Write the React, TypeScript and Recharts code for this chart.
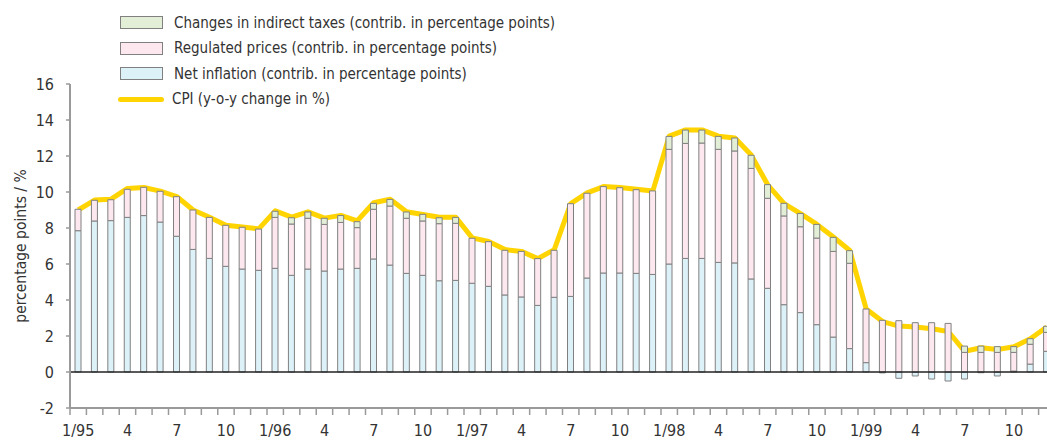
import React from 'react';
import { ComposedChart, Bar, Line, XAxis, YAxis, ReferenceLine } from 'recharts';

const years = ['95', '96', '97', '98', '99'];
const monthsPerYear = 12;

const netInflation = [
  7.85, 8.39, 8.41, 8.59, 8.69, 8.33, 7.54, 6.81, 6.31, 5.87, 5.72, 5.65,
  5.76, 5.37, 5.72, 5.61, 5.72, 5.76, 6.28, 5.94, 5.48, 5.37, 5.07, 5.09,
  4.93, 4.76, 4.28, 4.17, 3.70, 4.15, 4.20, 5.22, 5.50, 5.50, 5.48, 5.42,
  6.00, 6.31, 6.31, 6.09, 6.06, 5.17, 4.65, 3.74, 3.30, 2.63, 1.94, 1.30,
  0.52, -0.05, -0.35, -0.22, -0.39, -0.50, -0.39, -0.04, -0.22, 0.05, 0.44, 1.15,
];

const regulatedPrices = [
  1.19, 1.15, 1.16, 1.56, 1.57, 1.71, 2.20, 2.19, 2.28, 2.28, 2.32, 2.29,
  2.83, 2.85, 2.82, 2.59, 2.59, 2.26, 2.76, 3.28, 3.06, 3.02, 3.17, 3.17,
  2.50, 2.48, 2.48, 2.53, 2.60, 2.61, 5.15, 4.71, 4.80, 4.74, 4.65, 4.64,
  6.37, 6.39, 6.41, 6.28, 6.22, 6.14, 5.00, 4.93, 4.77, 4.81, 4.76, 4.74,
  2.98, 2.87, 2.85, 2.74, 2.74, 2.70, 1.09, 1.09, 1.09, 1.04, 1.10, 1.05,
];

const indirectTaxes = [
  0, 0, 0, 0, 0, 0, 0, 0, 0, 0, 0, 0,
  0.34, 0.35, 0.35, 0.34, 0.38, 0.33, 0.33, 0.37, 0.35, 0.37, 0.33, 0.33,
  0, 0, 0, 0, 0, 0, 0, 0, 0, 0, 0, 0,
  0.72, 0.74, 0.72, 0.72, 0.72, 0.73, 0.76, 0.70, 0.74, 0.76, 0.78, 0.70,
  0, 0, 0, 0, 0, 0, 0.35, 0.35, 0.32, 0.32, 0.31, 0.34,
];

const cpi = [
  9.0, 9.55, 9.6, 10.2, 10.25, 10.05, 9.75, 9.0, 8.6, 8.15, 8.05, 7.95,
  8.95, 8.6, 8.9, 8.55, 8.7, 8.4, 9.4, 9.6, 8.9, 8.75, 8.6, 8.6,
  7.45, 7.25, 6.8, 6.7, 6.3, 6.8, 9.35, 9.95, 10.3, 10.25, 10.15, 10.05,
  13.1, 13.45, 13.45, 13.1, 13.0, 12.05, 10.4, 9.35, 8.8, 8.2, 7.5, 6.75,
  3.5, 2.8, 2.55, 2.5, 2.4, 2.25, 1.15, 1.35, 1.25, 1.4, 1.85, 2.5,
];

const yTicks = [-2, 0, 2, 4, 6, 8, 10, 12, 14, 16];

const seriesNames = {
  taxes: 'Changes in indirect taxes (contrib. in percentage points)',
  regulated: 'Regulated prices (contrib. in percentage points)',
  net: 'Net inflation (contrib. in percentage points)',
  cpi: 'CPI (y-o-y change in %)',
};

const colors = {
  net: '#ddf1f9',
  regulated: '#fde8f0',
  taxes: '#e2efd6',
  cpi: '#ffd400',
  barStroke: '#808080',
  axis: '#9a9a9a',
  text: '#333333',
};

const months: string[] = [];
years.forEach((y) => {
  for (let m = 1; m <= monthsPerYear; m++) months.push(`${m}/${y}`);
});

const data = months.map((month, i) => ({
  month,
  net: netInflation[i],
  regulated: regulatedPrices[i],
  taxes: indirectTaxes[i],
  cpi: cpi[i],
}));

const FONT = "'Liberation Sans Narrow', 'DejaVu Sans Condensed', 'Arial Narrow', sans-serif";
const CHART_W = 1060;
const CHART_H = 441;
const MARGIN = { top: 84, right: 5, bottom: 0, left: 0 };
const Y_W = 70;
const PLOT_W = CHART_W - MARGIN.left - MARGIN.right - Y_W;
const BAND = PLOT_W / data.length;

const tickLabel = (month: string) => {
  const [m, y] = month.split('/');
  return m === '1' ? `1/${y}` : m;
};

const XTick = (props: any) => {
  const { x, y, payload, index } = props;
  const bx = x - BAND / 2;
  return (
    <g>
      <line x1={bx} y1={y} x2={bx} y2={y + 7} stroke={colors.axis} strokeWidth={1.5} />
      {index % 3 === 0 && (
        <text x={x} y={y + 28} textAnchor="middle" fontSize={16} fontFamily={FONT} fill={colors.text}>
          {tickLabel(payload.value)}
        </text>
      )}
    </g>
  );
};

const YLabel = (props: any) => {
  const vb = props.viewBox || { x: 0, y: 84, width: 70, height: 324 };
  const cx = vb.x + 21;
  const cy = vb.y + vb.height / 2;
  return (
    <text
      x={cx}
      y={cy}
      transform={`rotate(-90 ${cx} ${cy})`}
      textAnchor="middle"
      dominantBaseline="central"
      fontSize={15.5}
      fontFamily={FONT}
      fill={colors.text}
    >
      percentage points / %
    </text>
  );
};

const legendRows = [
  { key: 'taxes', type: 'rect' },
  { key: 'regulated', type: 'rect' },
  { key: 'net', type: 'rect' },
  { key: 'cpi', type: 'line' },
];

const LegendBox = () => (
  <div style={{ position: 'absolute', left: 120, top: 10, fontFamily: FONT, fontSize: 15, color: colors.text }}>
    {legendRows.map((r) => (
      <div key={r.key} style={{ display: 'flex', alignItems: 'center', height: 25.5 }}>
        {r.type === 'rect' ? (
          <div
            style={{
              width: 41,
              height: 11,
              background: (colors as any)[r.key],
              border: `1px solid ${colors.barStroke}`,
            }}
          />
        ) : (
          <div style={{ width: 46, height: 5, background: colors.cpi, borderRadius: 3, marginLeft: -2, marginRight: -3 }} />
        )}
        <span style={{ marginLeft: 11, whiteSpace: 'nowrap' }}>{(seriesNames as any)[r.key]}</span>
      </div>
    ))}
  </div>
);

export default function App() {
  return (
    <div
      style={{
        position: 'absolute',
        left: 0,
        top: 0,
        width: 1047,
        height: 441,
        overflow: 'hidden',
        background: '#fff',
      }}
    >
      <ComposedChart width={CHART_W} height={CHART_H} data={data} margin={MARGIN} stackOffset="sign" barCategoryGap={0}>
        <XAxis
          dataKey="month"
          interval={0}
          tickLine={false}
          tickSize={0}
          tickMargin={0}
          height={33}
          axisLine={{ stroke: colors.axis, strokeWidth: 2 }}
          tick={<XTick />}
        />
        <YAxis
          type="number"
          domain={[-2, 16]}
          ticks={yTicks}
          interval={0}
          width={Y_W}
          allowDataOverflow
          tickSize={4}
          tickMargin={12}
          axisLine={{ stroke: colors.axis, strokeWidth: 2 }}
          tickLine={{ stroke: colors.axis, strokeWidth: 1.5 }}
          tick={{ fontSize: 16, fontFamily: FONT, fill: colors.text }}
          label={{ content: <YLabel /> }}
        />
        <Line
          dataKey="cpi"
          name={seriesNames.cpi}
          type="linear"
          stroke={colors.cpi}
          strokeWidth={5}
          dot={false}
          activeDot={false}
          isAnimationActive={false}
          strokeLinejoin="round"
          zIndex={250}
        />
        <Bar dataKey="net" name={seriesNames.net} stackId="s" fill={colors.net} stroke={colors.barStroke} strokeWidth={1} barSize={6} isAnimationActive={false} />
        <Bar dataKey="regulated" name={seriesNames.regulated} stackId="s" fill={colors.regulated} stroke={colors.barStroke} strokeWidth={1} barSize={6} isAnimationActive={false} />
        <Bar dataKey="taxes" name={seriesNames.taxes} stackId="s" fill={colors.taxes} stroke={colors.barStroke} strokeWidth={1} barSize={6} isAnimationActive={false} />
        <ReferenceLine y={0} stroke="#222" strokeWidth={1.5} />
      </ComposedChart>
      <LegendBox />
    </div>
  );
}
